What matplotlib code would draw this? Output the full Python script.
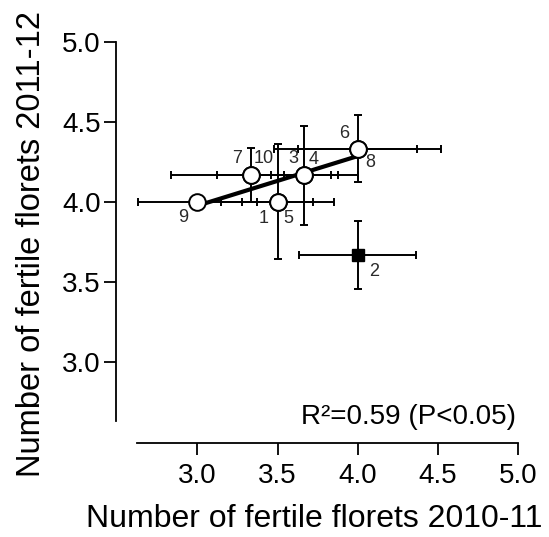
import numpy as np
import matplotlib
matplotlib.use("Agg")
import matplotlib.pyplot as plt

plt.rcParams["font.family"] = ["Liberation Sans", "DejaVu Sans"]

# Mean fertile florets per genotype in the two seasons, with errors
genotypes = ["1", "2", "3", "4", "5", "6", "7", "8", "9", "10"]
florets_2010 = [3.5, 4.0, 3.667, 3.667, 3.5, 4.0, 3.333, 4.0, 3.0, 3.333]
florets_2011 = [4.0, 3.667, 4.167, 4.167, 4.0, 4.333, 4.167, 4.333, 4.0, 4.167]
err_2010 = [0.355, 0.365, 0.333, 0.21, 0.22, 0.52, 0.5, 0.37, 0.37, 0.21]
err_2011 = [0.36, 0.21, 0.31, 0.0, 0.0, 0.21, 0.167, 0.0, 0.0, 0.0]
outlier = "2"  # left out of the regression, drawn as a filled square

# where each number sits relative to its point (points, y up)
label_offsets = {
    "1": (-10, -12), "5": (8, -12), "9": (-10, -11),
    "7": (-10, 12), "10": (9, 12), "3": (-8, 12), "4": (7, 11),
    "6": (-10, 11), "8": (9, -10), "2": (12, -12),
}

x = np.array(florets_2010)
y = np.array(florets_2011)
keep = np.array([g != outlier for g in genotypes])

fig = plt.figure(figsize=(5.49, 5.37), dpi=100)
ax = fig.add_axes([0.2107, 0.175, 0.7328, 0.7467])

ax.errorbar(x, y, xerr=err_2010, yerr=err_2011, fmt="none", ecolor="black",
            elinewidth=1.4, capsize=2.6, capthick=1.4, zorder=1)

# linear fit through the open circles
slope, intercept = np.polyfit(x[keep], y[keep], 1)
pred = slope * x[keep] + intercept
r2 = 1 - np.sum((y[keep] - pred) ** 2) / np.sum((y[keep] - y[keep].mean()) ** 2)
xs = np.array([x[keep].min(), x[keep].max()])
ax.plot(xs, slope * xs + intercept, color="black", lw=3, solid_capstyle="butt", zorder=2)

ax.plot(x[keep], y[keep], "o", ms=12, mfc="white", mec="black", mew=1.4, ls="none", zorder=3)
ax.plot(x[~keep], y[~keep], "s", ms=9, mfc="black", mec="black", ls="none", zorder=3)

for g, xi, yi in zip(genotypes, x, y):
    ax.annotate(g, (xi, yi), xytext=label_offsets[g], textcoords="offset points",
                ha="center", va="center", fontsize=13, color="#2a2a2a")

ax.text(4.99, 2.655, f"R²={r2:.2f} (P<0.05)", ha="right", va="center", fontsize=20)

ax.set_xlim(2.49, 5.0)
ax.set_ylim(2.49, 5.0)
ax.set_xticks([3.0, 3.5, 4.0, 4.5, 5.0])
ax.set_yticks([3.0, 3.5, 4.0, 4.5, 5.0])
ax.set_xticklabels(["3.0", "3.5", "4.0", "4.5", "5.0"])
ax.set_yticklabels(["3.0", "3.5", "4.0", "4.5", "5.0"])

for side in ["top", "right"]:
    ax.spines[side].set_visible(False)
for side in ["left", "bottom"]:
    ax.spines[side].set_linewidth(1.3)
    ax.spines[side].set_bounds(2.625, 5.0)

ax.tick_params(axis="both", direction="out", length=8.6, width=1.3, labelsize=20)
ax.tick_params(axis="x", pad=6)
ax.tick_params(axis="y", pad=2)

ax.set_xlabel("Number of fertile florets 2010-11", fontsize=23)
ax.set_ylabel("Number of fertile florets 2011-12", fontsize=23.5)
ax.xaxis.set_label_coords(0.493, -0.152)
ax.yaxis.set_label_coords(-0.17, 0.497)

fig.savefig("out.png", dpi=100)
